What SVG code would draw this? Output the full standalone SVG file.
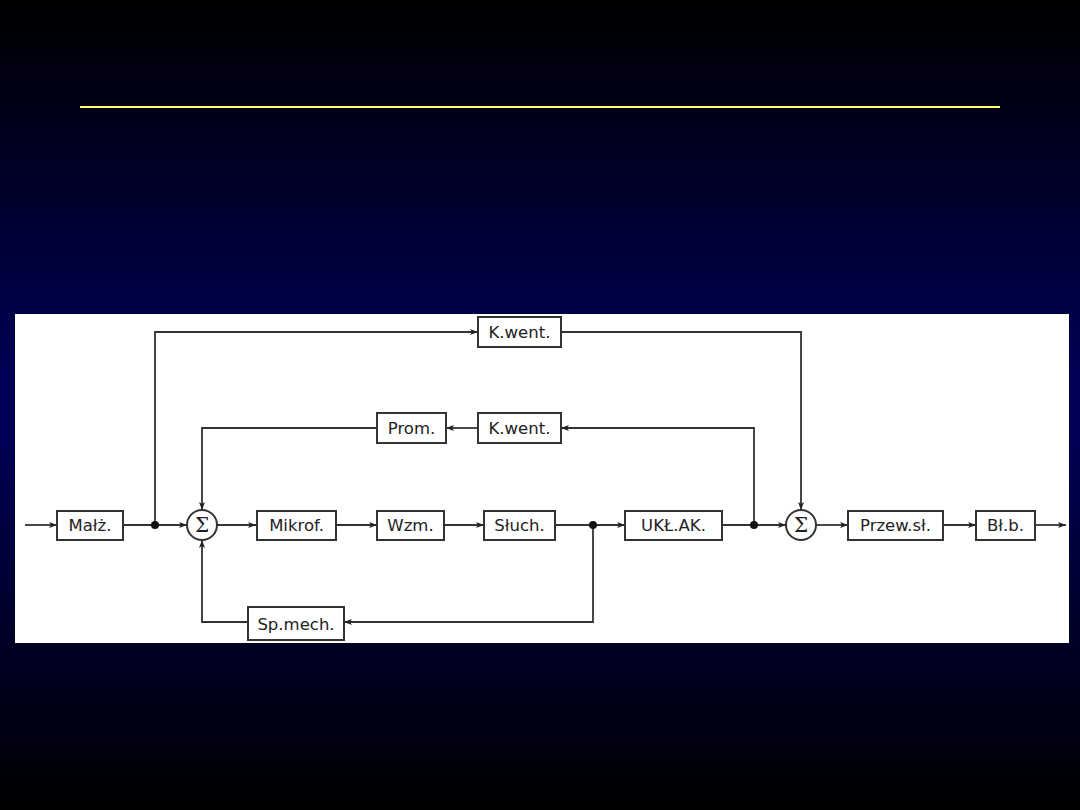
<svg xmlns="http://www.w3.org/2000/svg" width="1080" height="810" viewBox="0 0 1080 810">
<defs>
<linearGradient id="bg" x1="0" y1="0" x2="0" y2="1">
<stop offset="0" stop-color="#000000"/>
<stop offset="0.46" stop-color="#000055"/>
<stop offset="0.54" stop-color="#000055"/>
<stop offset="1" stop-color="#000000"/>
</linearGradient>
<marker id="ar" markerUnits="userSpaceOnUse" markerWidth="10" markerHeight="8" refX="8" refY="3" orient="auto">
<path d="M0,0 L8,3 L0,6 L2,3 Z" fill="#222"/>
</marker>
<style>
.box{fill:#fff;stroke:#333;stroke-width:2}
.ln{fill:none;stroke:#333;stroke-width:1.8}
.a{marker-end:url(#ar)}
.t{font-family:"DejaVu Sans","Liberation Sans",sans-serif;font-size:16.5px;fill:#222;text-anchor:middle}
.sig{font-family:"DejaVu Serif","Liberation Serif",serif;font-size:20px;fill:#222;text-anchor:middle}
.dot{fill:#111}
</style>
</defs>
<rect x="0" y="0" width="1080" height="810" fill="url(#bg)"/>
<line x1="80" y1="107" x2="1000" y2="107" stroke="#ffff66" stroke-width="2"/>
<rect x="15" y="314" width="1054" height="329" fill="#ffffff"/>

<g id="connectors">
<path class="ln a" d="M25,525 H57"/>
<path class="ln a" d="M123,525 H187"/>
<path class="ln a" d="M217,525 H256"/>
<path class="ln a" d="M336,525 H377"/>
<path class="ln a" d="M444,525 H484"/>
<path class="ln a" d="M555,525 H625"/>
<path class="ln a" d="M722,525 H786"/>
<path class="ln a" d="M816,525 H848"/>
<path class="ln a" d="M943,525 H976"/>
<path class="ln a" d="M1035,525 H1066"/>
<path class="ln a" d="M155,525 V332 H478"/>
<path class="ln a" d="M561,332 H801 V510"/>
<path class="ln a" d="M754,525 V428 H561"/>
<path class="ln a" d="M478,428 H446"/>
<path class="ln a" d="M377,428 H202 V510"/>
<path class="ln a" d="M593,525 V622 H344"/>
<path class="ln a" d="M248,622 H202 V540"/>
<circle class="dot" cx="155" cy="525" r="4"/>
<circle class="dot" cx="593" cy="525" r="4"/>
<circle class="dot" cx="754" cy="525" r="4"/>
</g>

<g id="malz"><rect class="box" x="57" y="511" width="66" height="29"/><text class="t" x="90" y="531">Małż.</text></g>
<g id="sum1"><circle cx="202" cy="525" r="15" fill="#fff" stroke="#333" stroke-width="2"/><text class="sig" x="202" y="532">Σ</text></g>
<g id="mikrof"><rect class="box" x="257" y="511" width="79" height="29"/><text class="t" x="296.5" y="531">Mikrof.</text></g>
<g id="wzm"><rect class="box" x="377" y="511" width="67" height="29"/><text class="t" x="410.5" y="531">Wzm.</text></g>
<g id="sluch"><rect class="box" x="484" y="511" width="71" height="29"/><text class="t" x="519.5" y="531">Słuch.</text></g>
<g id="uklak"><rect class="box" x="625" y="511" width="97" height="29"/><text class="t" x="673.5" y="531">UKŁ.AK.</text></g>
<g id="sum2"><circle cx="801" cy="525" r="15" fill="#fff" stroke="#333" stroke-width="2"/><text class="sig" x="801" y="532">Σ</text></g>
<g id="przew"><rect class="box" x="848" y="511" width="95" height="29"/><text class="t" x="895.5" y="531">Przew.sł.</text></g>
<g id="blb"><rect class="box" x="976" y="511" width="59" height="29"/><text class="t" x="1005.5" y="531">Bł.b.</text></g>
<g id="kwent1"><rect class="box" x="478" y="317" width="83" height="30"/><text class="t" x="519.5" y="338">K.went.</text></g>
<g id="kwent2"><rect class="box" x="478" y="413" width="83" height="30"/><text class="t" x="519.5" y="434">K.went.</text></g>
<g id="prom"><rect class="box" x="377" y="413" width="69" height="30"/><text class="t" x="411.5" y="434">Prom.</text></g>
<g id="spmech"><rect class="box" x="248" y="607" width="96" height="33"/><text class="t" x="296" y="630">Sp.mech.</text></g>
</svg>
